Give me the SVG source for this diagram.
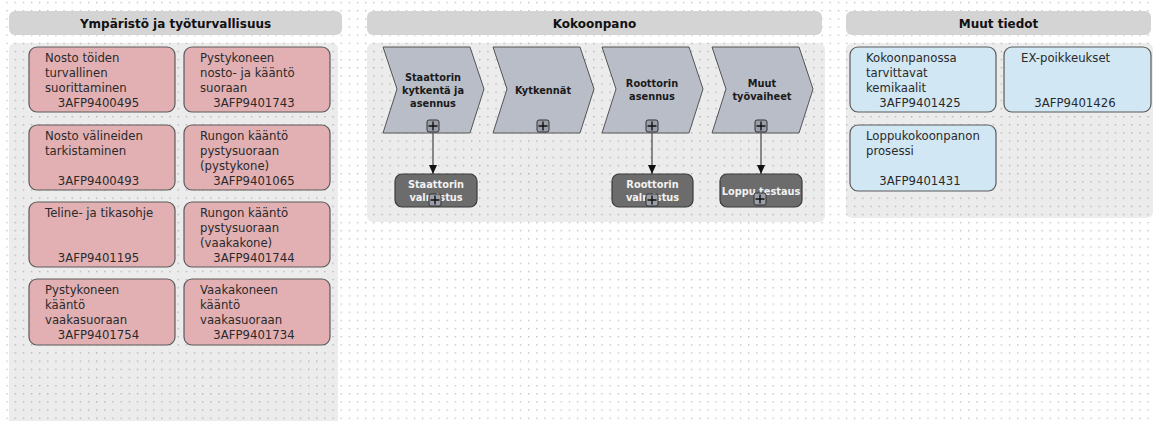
<svg xmlns="http://www.w3.org/2000/svg" width="1153" height="421" viewBox="0 0 1153 421">
<defs>
<pattern id="grid" x="6.4" y="1.9" width="8.15" height="8.15" patternUnits="userSpaceOnUse">
<rect x="0" y="0" width="1.3" height="1.3" fill="#bdbdbd"/>
</pattern>
<marker id="arr" markerWidth="10" markerHeight="8" refX="9" refY="4" orient="auto" markerUnits="userSpaceOnUse">
<path d="M0,0 L9,4 L0,8 Z" fill="#111"/>
</marker>
<g id="plus">
<rect x="-6" y="-6" width="12" height="12" rx="2" fill="#9a9ea8" stroke="#333" stroke-width="1"/>
<path d="M-4.5,0 H4.5 M0,-4.5 V4.5" stroke="#111" stroke-width="1.4"/>
</g>
</defs>
<style>
.hdr{fill:#d4d4d4;}
.panel{fill:#000;fill-opacity:0.075;}
.ht{font-family:"DejaVu Sans",sans-serif;font-weight:bold;font-size:12px;fill:#111;text-anchor:middle;}
.pink{fill:#e2b0b3;stroke:#5a5a5a;stroke-width:1.2;}
.blue{fill:#d2e7f4;stroke:#5a5a5a;stroke-width:1.2;}
.bt{font-family:"DejaVu Sans",sans-serif;font-size:11.7px;fill:#2a2a2a;}
.id{text-anchor:middle;}
.chev{fill:#b9bdc7;stroke:#555;stroke-width:1;}
.ct{font-family:"DejaVu Sans",sans-serif;font-weight:bold;font-size:9.8px;fill:#1a1a1a;text-anchor:middle;}
.dark{fill:#6c6c6c;stroke:#3a3a3a;stroke-width:1.2;}
.dt{font-family:"DejaVu Sans",sans-serif;font-weight:bold;font-size:9.8px;fill:#f2f2f2;text-anchor:middle;}
.conn{stroke:#222;stroke-width:1;fill:none;}
</style>
<rect width="1153" height="421" fill="#fff"/>
<rect width="1153" height="421" fill="url(#grid)"/>

<g id="lane-ymparisto">
<rect class="hdr" x="9" y="11" width="333" height="24" rx="6"/>
<text class="ht" x="175.5" y="27.5">Ympäristö ja työturvallisuus</text>
<rect class="panel" x="9" y="43" width="329" height="384" rx="6"/>
</g>
<g id="lane-kokoonpano">
<rect class="hdr" x="367" y="11" width="455" height="24" rx="6"/>
<text class="ht" x="594.5" y="27.5">Kokoonpano</text>
<rect class="panel" x="367" y="43" width="458" height="179" rx="6"/>
</g>
<g id="lane-muut">
<rect class="hdr" x="846" y="11" width="305" height="24" rx="6"/>
<text class="ht" x="998.5" y="27.5">Muut tiedot</text>
<rect class="panel" x="846" y="43" width="307" height="175" rx="6"/>
</g>

<g id="n-nosto-toiden">
<rect class="pink" x="29" y="47" width="146" height="65" rx="8"/>
<text class="bt" x="45" y="62">Nosto töiden</text>
<text class="bt" x="45" y="77">turvallinen</text>
<text class="bt" x="45" y="92">suorittaminen</text>
<text class="bt id" x="98.5" y="107">3AFP9400495</text>
</g>
<g id="n-pystykoneen-nosto">
<rect class="pink" x="184" y="47" width="146" height="65" rx="8"/>
<text class="bt" x="200" y="62">Pystykoneen</text>
<text class="bt" x="200" y="77">nosto- ja kääntö</text>
<text class="bt" x="200" y="92">suoraan</text>
<text class="bt id" x="254" y="107">3AFP9401743</text>
</g>
<g id="n-nosto-valineiden">
<rect class="pink" x="29" y="125" width="146" height="65" rx="8"/>
<text class="bt" x="45" y="140">Nosto välineiden</text>
<text class="bt" x="45" y="155">tarkistaminen</text>
<text class="bt id" x="98.5" y="185">3AFP9400493</text>
</g>
<g id="n-rungon-pysty">
<rect class="pink" x="184" y="125" width="146" height="65" rx="8"/>
<text class="bt" x="200" y="140">Rungon kääntö</text>
<text class="bt" x="200" y="155">pystysuoraan</text>
<text class="bt" x="200" y="170">(pystykone)</text>
<text class="bt id" x="254" y="185">3AFP9401065</text>
</g>
<g id="n-teline">
<rect class="pink" x="29" y="202" width="146" height="65" rx="8"/>
<text class="bt" x="45" y="217">Teline- ja tikasohje</text>
<text class="bt id" x="98.5" y="262">3AFP9401195</text>
</g>
<g id="n-rungon-vaaka">
<rect class="pink" x="184" y="202" width="146" height="65" rx="8"/>
<text class="bt" x="200" y="217">Rungon kääntö</text>
<text class="bt" x="200" y="232">pystysuoraan</text>
<text class="bt" x="200" y="247">(vaakakone)</text>
<text class="bt id" x="254" y="262">3AFP9401744</text>
</g>
<g id="n-pystykoneen-kaanto">
<rect class="pink" x="29" y="279" width="146" height="66" rx="8"/>
<text class="bt" x="45" y="294">Pystykoneen</text>
<text class="bt" x="45" y="309">kääntö</text>
<text class="bt" x="45" y="324">vaakasuoraan</text>
<text class="bt id" x="98.5" y="339">3AFP9401754</text>
</g>
<g id="n-vaakakoneen-kaanto">
<rect class="pink" x="184" y="279" width="146" height="66" rx="8"/>
<text class="bt" x="200" y="294">Vaakakoneen</text>
<text class="bt" x="200" y="309">kääntö</text>
<text class="bt" x="200" y="324">vaakasuoraan</text>
<text class="bt id" x="254" y="339">3AFP9401734</text>
</g>

<g id="n-kemikaalit">
<rect class="blue" x="850" y="47" width="146" height="65" rx="8"/>
<text class="bt" x="866" y="62">Kokoonpanossa</text>
<text class="bt" x="866" y="77">tarvittavat</text>
<text class="bt" x="866" y="92">kemikaalit</text>
<text class="bt id" x="920" y="107">3AFP9401425</text>
</g>
<g id="n-ex">
<rect class="blue" x="1004" y="47" width="147" height="65" rx="8"/>
<text class="bt" x="1021" y="62">EX-poikkeukset</text>
<text class="bt id" x="1075" y="107">3AFP9401426</text>
</g>
<g id="n-loppukokoonpano">
<rect class="blue" x="850" y="125" width="146" height="66" rx="8"/>
<text class="bt" x="866" y="140">Loppukokoonpanon</text>
<text class="bt" x="866" y="155">prosessi</text>
<text class="bt id" x="920" y="185">3AFP9401431</text>
</g>

<g id="connectors">
<line class="conn" x1="433" y1="133" x2="433" y2="174" marker-end="url(#arr)"/>
<line class="conn" x1="652" y1="133" x2="652" y2="174" marker-end="url(#arr)"/>
<line class="conn" x1="761" y1="133" x2="761" y2="174" marker-end="url(#arr)"/>
</g>

<g id="n-staattorin-kytkenta">
<polygon class="chev" points="383,47 470,47 484,89 470,133 383,133 397,89"/>
<text class="ct" x="433" y="81">Staattorin</text>
<text class="ct" x="433" y="94">kytkentä ja</text>
<text class="ct" x="433" y="107">asennus</text>
<use href="#plus" x="433" y="126"/>
</g>
<g id="n-kytkennat">
<polygon class="chev" points="493,47 580,47 594,89 580,133 493,133 507,89"/>
<text class="ct" x="543" y="94">Kytkennät</text>
<use href="#plus" x="543" y="126"/>
</g>
<g id="n-roottorin-asennus">
<polygon class="chev" points="602,47 689,47 703,89 689,133 602,133 616,89"/>
<text class="ct" x="652" y="87">Roottorin</text>
<text class="ct" x="652" y="100">asennus</text>
<use href="#plus" x="652" y="126"/>
</g>
<g id="n-muut-tyovaiheet">
<polygon class="chev" points="712,47 799,47 813,89 799,133 712,133 726,89"/>
<text class="ct" x="762" y="87">Muut</text>
<text class="ct" x="762" y="100">työvaiheet</text>
<use href="#plus" x="761" y="126"/>
</g>

<g id="n-staattorin-valmistus">
<rect class="dark" x="395" y="174" width="82" height="33" rx="7"/>
<text class="dt" x="436" y="188">Staattorin</text>
<text class="dt" x="436" y="201">valmistus</text>
<use href="#plus" x="435" y="200"/>
</g>
<g id="n-roottorin-valmistus">
<rect class="dark" x="612" y="174" width="81" height="33" rx="7"/>
<text class="dt" x="652.5" y="188">Roottorin</text>
<text class="dt" x="652.5" y="201">valmistus</text>
<use href="#plus" x="652" y="200"/>
</g>
<g id="n-loppu-testaus">
<rect class="dark" x="720" y="174" width="82" height="33" rx="7"/>
<text class="dt" x="761" y="194.5">Loppu testaus</text>
<use href="#plus" x="760" y="199"/>
</g>
</svg>
